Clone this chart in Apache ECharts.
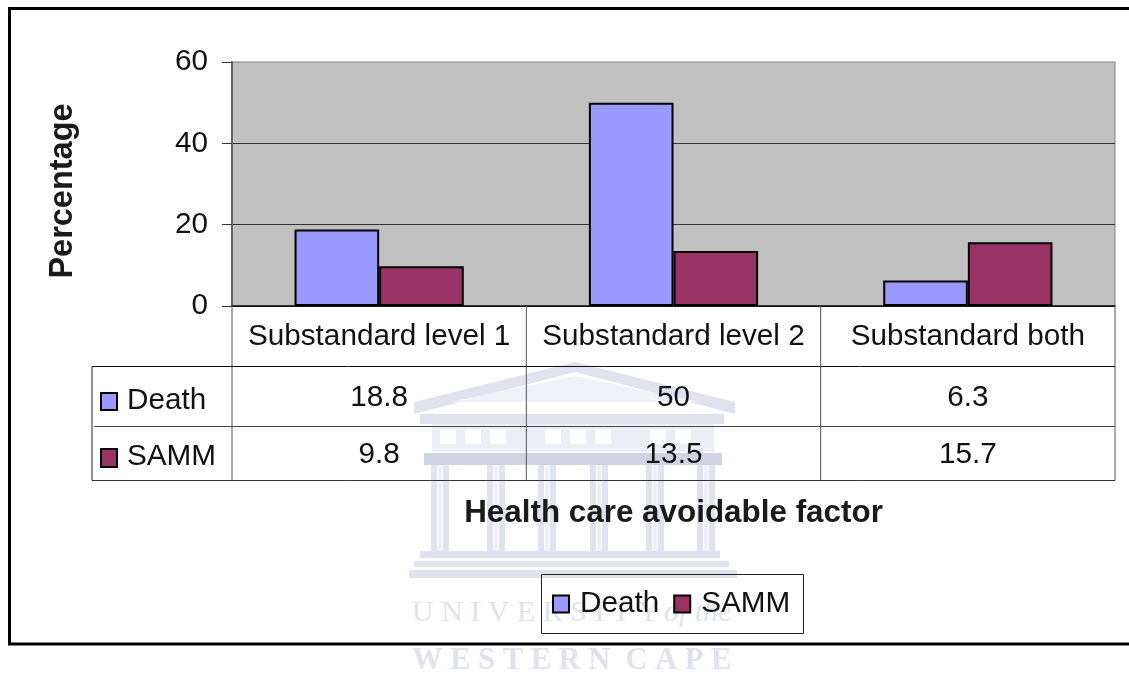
<!DOCTYPE html>
<html><head><meta charset="utf-8">
<style>html,body{margin:0;padding:0;background:#fff}#c{width:1129px;height:677px}</style>
<script src="https://cdn.jsdelivr.net/npm/echarts@6/dist/echarts.min.js"></script>
</head><body><div id="c"></div>
<script>
const categories = ['Substandard level 1','Substandard level 2','Substandard both'];
const death = [18.8,50,6.3];
const samm = [9.8,13.5,15.7];
const deathLabels = ['18.8','50','6.3'];
const sammLabels = ['9.8','13.5','15.7'];
const yTicks = [0,20,40,60];
const xTitle = 'Health care avoidable factor';
const yTitle = 'Percentage';
const FONT = '"Liberation Sans", Arial, sans-serif';
const L=232,R=1115,T=62,B=306,FS=29.7;
const DEATH='#9999ff',SAMMC='#993366';
const W='#e0e2ee', WD='#d0d3e4';
const colW=(R-L)/3;
const chart = echarts.init(document.getElementById('c'),null,{renderer:'canvas'});
const g=[];
const line=(x1,y1,x2,y2,stroke,lw,z)=>g.push({type:'line',z:z||5,shape:{x1,y1,x2,y2},style:{stroke:stroke||'#222',lineWidth:lw||1}});
const txt=(x,y,text,opts)=>g.push(Object.assign({type:'text',z:6,x,y,style:Object.assign({text,font:FS+'px '+FONT,fill:'#111',textAlign:'center',textVerticalAlign:'middle'},opts||{})}));
const wrect=(x,y,w,h,f)=>g.push({type:'rect',z:0,shape:{x,y,width:w,height:h},style:{fill:f||W}});
// watermark
g.push({type:'polygon',z:0,shape:{points:[[414,402],[575,362],[735,402],[735,414],[575,372],[414,414]]},style:{fill:W}});
g.push({type:'polygon',z:0,shape:{points:[[450,402],[575,376],[700,402]]},style:{fill:'#f1f2f8'}});
wrect(420,414,304,10,W);
wrect(432,424,282,28,'#eceef5');
[440,465,490,545,570,595,650,675].forEach(x=>wrect(x,430,16,14,'#ffffff'));
wrect(424,453,298,12,WD);
[431,487,538,590,646,697].forEach(x=>{wrect(x,465,6,90,W);wrect(x+7,465,4,90,'#eef0f6');wrect(x+12,465,6,90,W);});
wrect(420,551,300,7,W);wrect(414,561,315,6,W);wrect(409,570,328,8,W);
g.push({type:'text',z:0,x:412,y:613,style:{text:'U N I V E R S I T Y',font:'30px "Liberation Serif",serif',fill:W,textVerticalAlign:'middle'}});
g.push({type:'text',z:0,x:664,y:613,style:{text:'of the',font:'italic 30px "Liberation Serif",serif',fill:W,textVerticalAlign:'middle'}});
g.push({type:'text',z:0,x:412,y:661,style:{text:'W E S T E R N  C A P E',font:'bold 30.5px "Liberation Serif",serif',fill:W,textVerticalAlign:'middle'}});
// outer frame
g.push({type:'polyline',z:5,shape:{points:[[1135,8.5],[9.5,8.5],[9.5,644],[1135,644]]},style:{stroke:'#000',lineWidth:3,fill:null}});
// table
for(let i=0;i<=3;i++){line(L+colW*i,B,L+colW*i,480.5,'#555',1);}
line(92,366.5,R,366.5,'#111',1);
line(94,426.5,R,426.5,'#444',1);
line(92,480.5,R,480.5,'#333',1);
line(92,366.5,92,480.5,'#222',1);
categories.forEach((c,i)=>{
  txt(L+colW*(i+.5),337,c);
  txt(L+colW*(i+.5),398,deathLabels[i]);
  txt(L+colW*(i+.5),455,sammLabels[i]);
});
g.push({type:'rect',z:6,shape:{x:101,y:393,width:16,height:17},style:{fill:DEATH,stroke:'#000',lineWidth:2}});
g.push({type:'rect',z:6,shape:{x:101,y:449,width:16,height:18},style:{fill:SAMMC,stroke:'#000',lineWidth:2}});
txt(127,401,'Death',{textAlign:'left'});
txt(127,457,'SAMM',{textAlign:'left'});
txt(673.5,513,xTitle,{font:'bold 31.4px '+FONT,fill:'#1a1a1a'});
g.push({type:'text',z:6,x:63,y:191,rotation:Math.PI/2,style:{text:yTitle,font:'bold 32.5px '+FONT,fill:'#1a1a1a',textAlign:'center',textVerticalAlign:'middle'}});
// legend box
g.push({type:'rect',z:5,shape:{x:541.5,y:574.5,width:262,height:59},style:{fill:'transparent',stroke:'#222',lineWidth:1}});

chart.setOption({
  animation:false,
  backgroundColor:'#fff',
  grid:{left:L,right:1129-R,top:T,bottom:677-B,show:true,backgroundColor:'#c0c0c0',borderColor:'#808080',borderWidth:1},
  legend:{show:true,left:552,top:589,itemWidth:16,itemHeight:17,itemGap:14,icon:'rect',padding:0,
    textStyle:{fontFamily:FONT,fontSize:FS,color:'#111',padding:[0,0,4,6]},
    data:[{name:'Death'},{name:'SAMM'}]},
  xAxis:{type:'category',data:categories,axisLine:{show:true,onZero:true,lineStyle:{color:'#111',width:1.5}},axisTick:{show:false},axisLabel:{show:false}},
  yAxis:{type:'value',min:0,max:60,interval:20,
    axisLine:{show:true,lineStyle:{color:'#666',width:2}},
    axisTick:{show:true,length:10,lineStyle:{color:'#333',width:1}},
    axisLabel:{fontFamily:FONT,fontSize:FS,color:'#111',margin:24,customValues:yTicks},
    splitLine:{show:true,showMaxLine:false,lineStyle:{color:'#333',width:1}}},
  series:[
    {name:'Death',type:'bar',data:death,barGap:0,barCategoryGap:'42.5%',itemStyle:{color:DEATH,borderColor:'#000',borderWidth:2}},
    {name:'SAMM',type:'bar',data:samm,itemStyle:{color:SAMMC,borderColor:'#000',borderWidth:2}}
  ],
  graphic:{elements:g}
});
</script></body></html>
